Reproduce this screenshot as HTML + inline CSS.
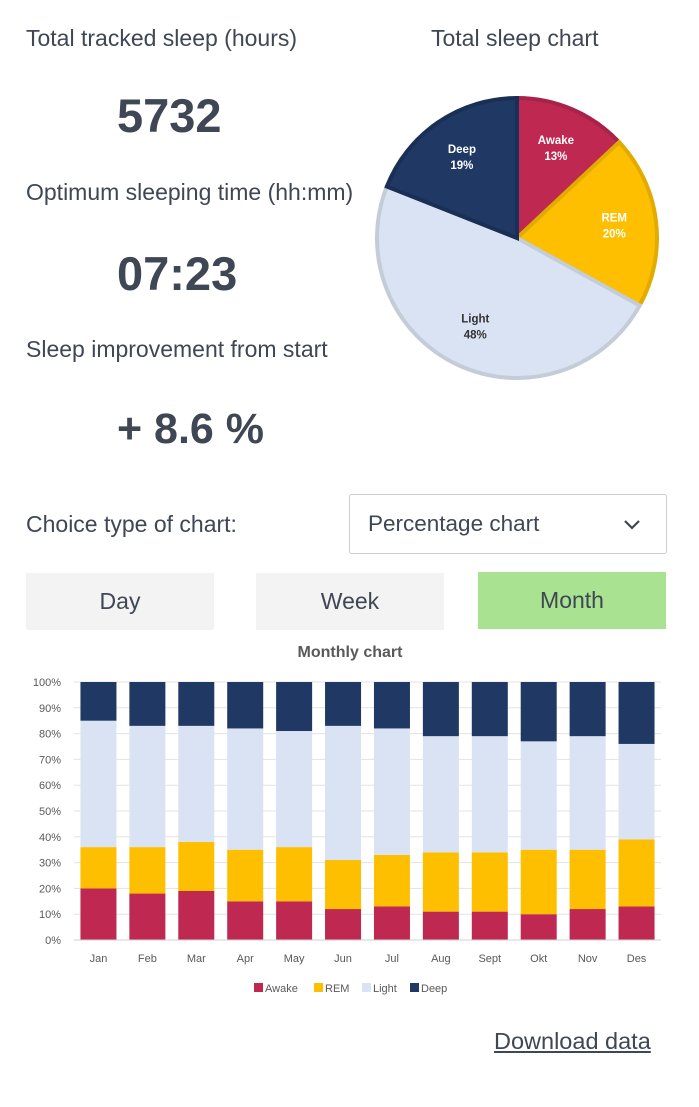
<!DOCTYPE html>
<html><head><meta charset="utf-8"><style>
body{margin:0;width:699px;height:1107px;background:#fff;font-family:"Liberation Sans",sans-serif;color:#3f4754;position:relative;overflow:hidden}
.a{position:absolute}
.lbl{font-size:23px;color:#3f4754}
.big{font-size:47px;font-weight:bold;color:#3f4754}
.btn{position:absolute;top:573px;height:57px;width:188px;background:#f3f3f3;font-size:23px;text-align:center;line-height:57px;color:#3f4754}
</style></head><body>
<div class="a lbl" style="left:26px;top:25px">Total tracked sleep (hours)</div>
<div class="a big" style="left:117px;top:88px">5732</div>
<div class="a lbl" style="left:26px;top:179px">Optimum sleeping time (hh:mm)</div>
<div class="a big" style="left:117px;top:246px">07:23</div>
<div class="a lbl" style="left:26px;top:336px">Sleep improvement from start</div>
<div class="a big" style="left:117px;top:405px;font-size:43px">+ 8.6 %</div>
<div class="a lbl" style="left:431px;top:25px">Total sleep chart</div>
<svg class="a" style="left:0;top:0" width="699" height="400" id="pie"></svg>
<div class="a lbl" style="left:26px;top:511px">Choice type of chart:</div>
<div class="a" style="left:349px;top:494px;width:318px;height:60px;border:1px solid #ccc;border-radius:3px;box-sizing:border-box">
<span class="a" style="left:18px;top:16px;font-size:22.5px">Percentage chart</span>
<svg class="a" style="left:272px;top:23px" width="20" height="14"><polyline points="3,3 10,10 17,3" fill="none" stroke="#3f4754" stroke-width="2.2"/></svg></div>
<div class="btn" style="left:26px">Day</div>
<div class="btn" style="left:256px">Week</div>
<div class="btn" style="left:478px;top:572px;background:#a9e291">Month</div>
<svg class="a" style="left:0;top:635px" width="699" height="370" id="bar"></svg>
<div class="a" style="left:494px;top:1028px;font-size:23.5px;text-decoration:underline;color:#3f4754">Download data</div>
<script>
const NS="http://www.w3.org/2000/svg";
function mk(p,t,a){const e=document.createElementNS(NS,t);for(const k in a)e.setAttribute(k,a[k]);p.appendChild(e);return e;}
const pieLabels=["Awake","REM","Light","Deep"];
const pieValues=[13,20,48,19];
const pieColors=["#bf2850","#fdbf00","#dae3f3","#1f3864"];
const pieStroke=["#a8234a","#e2ab00","#c4ccd8","#1a2f55"];
const pie=document.getElementById('pie');
const cx=517,cy=238,r=140;
let tot=pieValues.reduce((a,b)=>a+b,0),ang=0;
pieValues.forEach((v,i)=>{
 const a0=ang/tot*2*Math.PI,a1=(ang+v)/tot*2*Math.PI;ang+=v;
 const x0=cx+r*Math.sin(a0),y0=cy-r*Math.cos(a0),x1=cx+r*Math.sin(a1),y1=cy-r*Math.cos(a1);
 const p=mk(pie,'path',{d:`M${cx},${cy}L${x0},${y0}A${r},${r} 0 ${a1-a0>Math.PI?1:0} 1 ${x1},${y1}Z`,fill:pieColors[i],stroke:pieStroke[i],'stroke-width':4});
 
 
 const am=(a0+a1)/2,lr=r*0.7;
 const lx=cx+lr*Math.sin(am),ly=cy-lr*Math.cos(am);
 const col=i==2?"#333":"#fff";
 const t=mk(pie,'text',{x:lx,y:ly-4,'text-anchor':'middle','font-size':11.5,'font-weight':'bold',fill:col});t.textContent=pieLabels[i];
 
 
 const t2=mk(pie,'text',{x:lx,y:ly+12,'text-anchor':'middle','font-size':11.5,'font-weight':'bold',fill:col});t2.textContent=v+"%";
 
 
});
const months=["Jan","Feb","Mar","Apr","May","Jun","Jul","Aug","Sept","Okt","Nov","Des"];
const awake=[20,18,19,15,15,12,13,11,11,10,12,13];
const rem=[16,18,19,20,21,19,20,23,23,25,23,26];
const light=[49,47,45,47,45,52,49,45,45,42,44,37];
const deep=[15,17,17,18,19,17,18,21,21,23,21,24];
const yTicks=[0,10,20,30,40,50,60,70,80,90,100];
const series=[["Awake",awake,"#bf2850"],["REM",rem,"#fdbf00"],["Light",light,"#dae3f3"],["Deep",deep,"#1f3864"]];
const bar=document.getElementById('bar');
const L=74,R=661,T=47,B=305;
const y=v=>B-(v/100)*(B-T);
const step=(R-L)/months.length,bw=36;
const x=i=>L+step*i+(step-bw)/2;
const tt=mk(bar,'text',{x:350,y:22,'text-anchor':'middle','font-size':16,'font-weight':'bold',fill:'#595959'});tt.textContent="Monthly chart";


yTicks.forEach(v=>{
 const g=mk(bar,'line',{x1:L,x2:R,y1:y(v),y2:y(v),stroke:'#e3e3e3'});
 
 
 const t=mk(bar,'text',{x:L-13,y:y(v)+4,'text-anchor':'end','font-size':11,fill:'#595959'});t.textContent=v+"%";
 
 
});
months.forEach((m,i)=>{
 let acc=0;
 series.forEach(s=>{
  const v=s[1][i];
  const rc=mk(bar,'rect',{x:x(i),y:y(acc+v),width:bw,height:y(acc)-y(acc+v),fill:s[2]});
  
  
  acc+=v;
 });
 const t=mk(bar,'text',{x:x(i)+bw/2,y:B+22,'text-anchor':'middle','font-size':11,fill:'#595959'});t.textContent=m;
 
 
});
const ax=mk(bar,'line',{x1:L,x2:R,y1:B,y2:B,stroke:'#d0d0d0'});


const lgx=[254,314,362,410];
series.forEach((s,i)=>{
 const rc=mk(bar,'rect',{x:lgx[i],y:348,width:9,height:9,fill:s[2]});
 
 
 const t=mk(bar,'text',{x:lgx[i]+11,y:357,'font-size':11,fill:'#595959'});t.textContent=s[0];
 
 
});
</script>
</body></html>
